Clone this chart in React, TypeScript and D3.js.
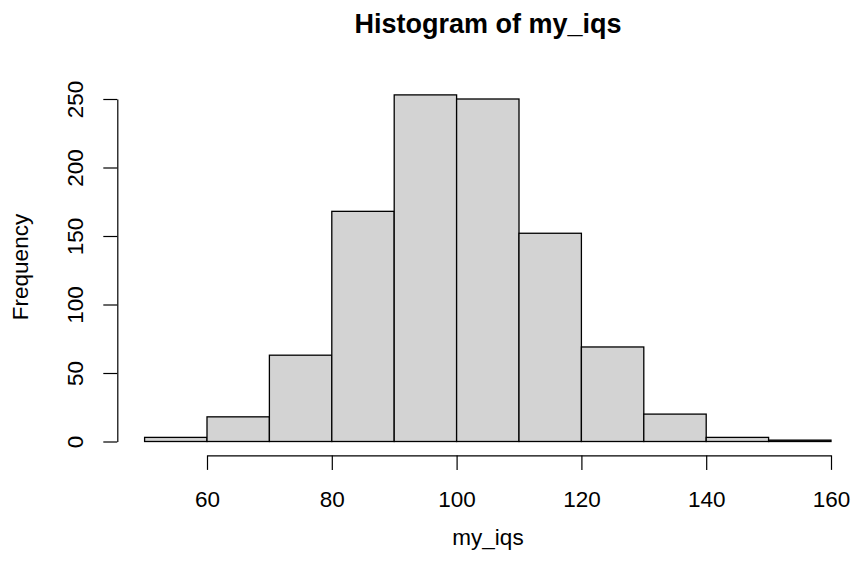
import React, { useEffect, useRef } from 'react';
import * as d3 from 'd3';

// histogram bins (left edges) and counts
const binStarts = [50, 60, 70, 80, 90, 100, 110, 120, 130, 140, 150];
const binWidth = 10;
const counts = [3, 18, 63, 168, 253, 250, 152, 69, 20, 3, 1];
const xTicks = [60, 80, 100, 120, 140, 160];
const yTicks = [0, 50, 100, 150, 200, 250];

const W = 853;
const H = 569;
const font = 'Liberation Sans, Arial, Helvetica, sans-serif';
const labelSize = 22.5;

export default function App() {
  const ref = useRef<SVGSVGElement>(null);

  useEffect(() => {
    const svg = d3.select(ref.current);
    svg.selectAll('*').remove();

    // scales
    const x = d3.scaleLinear().domain([60, 160]).range([207, 831]);
    const y = d3.scaleLinear().domain([0, 250]).range([441.5, 99]);
    const axisX = 117.3; // left edge of plot region
    const axisY = 455.4; // bottom edge of plot region

    // bars
    svg.append('g')
      .selectAll('rect')
      .data(binStarts.map((b, i) => ({ b, n: counts[i] })))
      .join('rect')
      .attr('x', d => x(d.b))
      .attr('width', d => x(d.b + binWidth) - x(d.b))
      .attr('y', d => y(d.n))
      .attr('height', d => y(0) - y(d.n))
      .attr('fill', '#d3d3d3')
      .attr('stroke', '#000')
      .attr('stroke-width', 1.3);

    // x axis
    const gx = svg.append('g')
      .attr('transform', `translate(0, ${axisY})`)
      .call(d3.axisBottom(x).tickValues(xTicks).tickSize(14.5).tickSizeOuter(0).tickPadding(21.5));
    gx.selectAll('path, line').attr('stroke', '#000').attr('stroke-width', 1.2);
    gx.selectAll('text').attr('font-family', font).attr('font-size', labelSize).attr('fill', '#000');

    // y axis, labels rotated parallel to the axis like base R
    const gy = svg.append('g')
      .attr('transform', `translate(${axisX}, 0)`)
      .call(d3.axisLeft(y).tickValues(yTicks).tickSize(14).tickSizeOuter(0).tickFormat(d3.format('d')));
    gy.selectAll('path, line').attr('stroke', '#000').attr('stroke-width', 1.2);
    gy.selectAll('text')
      .attr('font-family', font)
      .attr('font-size', labelSize)
      .attr('fill', '#000')
      .attr('x', 0)
      .attr('dy', 0)
      .attr('text-anchor', 'middle')
      .attr('transform', 'translate(-34, 0) rotate(-90)');

    // title and axis titles
    svg.append('text')
      .attr('x', 488).attr('y', 33)
      .attr('text-anchor', 'middle')
      .attr('font-family', font).attr('font-weight', 'bold').attr('font-size', 27)
      .text('Histogram of my_iqs');

    svg.append('text')
      .attr('x', 488).attr('y', 545)
      .attr('text-anchor', 'middle')
      .attr('font-family', font).attr('font-size', labelSize)
      .text('my_iqs');

    svg.append('text')
      .attr('transform', `translate(28, 267) rotate(-90)`)
      .attr('text-anchor', 'middle')
      .attr('font-family', font).attr('font-size', labelSize)
      .text('Frequency');
  }, []);

  return (
    <svg ref={ref} width={W} height={H}
      style={{ position: 'absolute', left: 0, top: 0, background: '#fff' }} />
  );
}
